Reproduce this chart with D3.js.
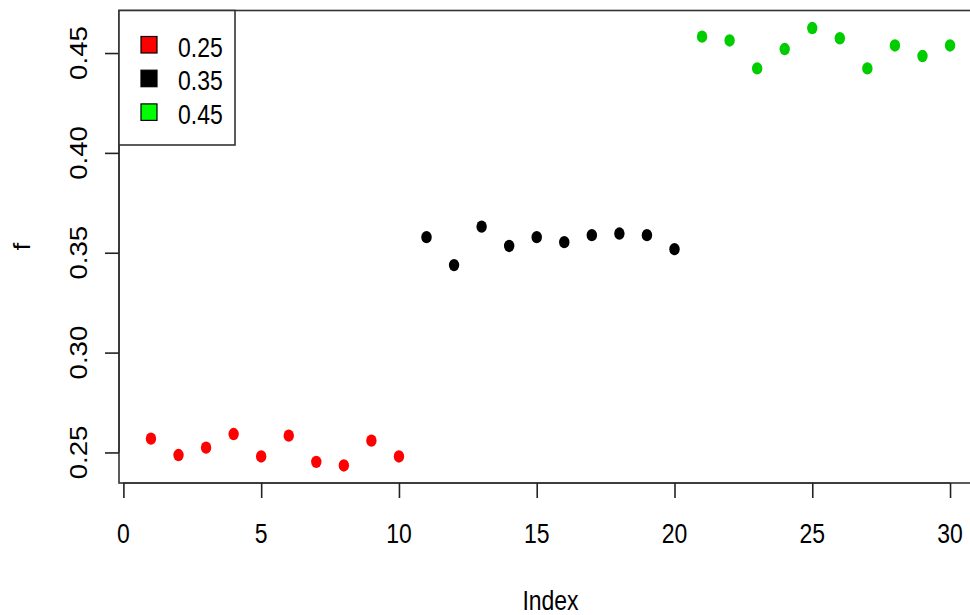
<!DOCTYPE html>
<html lang="en">
<head>
<meta charset="utf-8">
<script src="https://d3js.org/d3.v7.min.js"></script>
<style>
  body { margin: 0; background: #fff; }
  text { font-family: Arial, "Liberation Sans", sans-serif; fill: #000; }
</style>
</head>
<body>
<script>
  // values, index 1..30
  var fRed = [0.2569, 0.2487, 0.2524, 0.2592, 0.2480, 0.2584, 0.2453, 0.2435, 0.2559, 0.2480];
  var fBlack = [0.3578, 0.3438, 0.3631, 0.3534, 0.3578, 0.3553, 0.3588, 0.3596, 0.3588, 0.3518];
  var fGreen = [0.4582, 0.4563, 0.4423, 0.4520, 0.4625, 0.4574, 0.4423, 0.4538, 0.4485, 0.4538];
  var groups = ['0.25', '0.35', '0.45'];
  var colors = ['#ff0000', '#000000', '#00cd00'];
  var legendColors = ['#ff0000', '#000000', '#00ff00'];
  var xTicks = [0, 5, 10, 15, 20, 25, 30];
  var yTicks = [0.25, 0.30, 0.35, 0.40, 0.45];

  var width = 970, height = 615;
  var stretch = 1.2; // the picture is a bit taller than wide

  var points = [];
  [fRed, fBlack, fGreen].forEach(function(arr, g) {
    arr.forEach(function(v, i) {
      points.push({ idx: g * 10 + i + 1, f: v, g: g });
    });
  });

  var x = d3.scaleLinear().domain([-0.16, 31.16]).range([119, 982]);
  var y = d3.scaleLinear().domain([0.2347, 0.4713]).range([483, 10.5]);

  var svg = d3.select('body').append('svg')
    .attr('width', width)
    .attr('height', height);

  // points
  svg.append('g').selectAll('ellipse')
    .data(points)
    .join('ellipse')
    .attr('cx', function(d) { return x(d.idx); })
    .attr('cy', function(d) { return y(d.f); })
    .attr('rx', 5.2)
    .attr('ry', 6.2)
    .attr('fill', function(d) { return colors[d.g]; });

  // box
  svg.append('rect')
    .attr('x', x.range()[0]).attr('y', y.range()[1])
    .attr('width', x.range()[1] - x.range()[0])
    .attr('height', y.range()[0] - y.range()[1])
    .attr('fill', 'none').attr('stroke', '#333').attr('stroke-width', 1.6);

  // x axis
  var xAxis = svg.append('g')
    .attr('transform', 'translate(0,' + y.range()[0] + ')')
    .call(d3.axisBottom(x).tickValues(xTicks).tickSize(15).tickFormat(''));
  xAxis.select('.domain').attr('stroke', '#333').attr('stroke-width', 1.6)
    .attr('d', 'M' + x(0) + ',0H' + x(30));
  xAxis.selectAll('line').attr('stroke', '#222').attr('stroke-width', 1.6);

  svg.append('g').selectAll('text')
    .data(xTicks)
    .join('text')
    .attr('text-anchor', 'middle')
    .attr('font-size', 23)
    .attr('transform', function(d) { return 'translate(' + x(d) + ',543) scale(1,' + stretch + ')'; })
    .text(function(d) { return d; });

  // y axis
  var yAxis = svg.append('g')
    .attr('transform', 'translate(' + x.range()[0] + ',0)')
    .call(d3.axisLeft(y).tickValues(yTicks).tickSize(14).tickFormat(''));
  yAxis.select('.domain').attr('stroke', '#333').attr('stroke-width', 1.6)
    .attr('d', 'M0,' + y(0.25) + 'V' + y(0.45));
  yAxis.selectAll('line').attr('stroke', '#222').attr('stroke-width', 1.6);

  svg.append('g').selectAll('text')
    .data(yTicks)
    .join('text')
    .attr('text-anchor', 'middle')
    .attr('font-size', 23)
    .attr('transform', function(d) { return 'translate(87,' + y(d) + ') scale(1,' + stretch + ') rotate(-90)'; })
    .text(function(d) { return d.toFixed(2); });

  // axis titles
  svg.append('text')
    .attr('text-anchor', 'middle')
    .attr('font-size', 23)
    .attr('transform', 'translate(' + ((x.range()[0] + x.range()[1]) / 2) + ',610) scale(1,' + stretch + ')')
    .text('Index');

  svg.append('text')
    .attr('text-anchor', 'middle')
    .attr('font-size', 23)
    .attr('transform', 'translate(30,' + ((y.range()[0] + y.range()[1]) / 2) + ') scale(1,' + stretch + ') rotate(-90)')
    .text('f');

  // legend
  var legend = svg.append('g');
  legend.append('rect')
    .attr('x', 119).attr('y', 10.5)
    .attr('width', 116).attr('height', 134.5)
    .attr('fill', '#fff').attr('stroke', '#333').attr('stroke-width', 1.6);

  var rows = legend.selectAll('g.row')
    .data(groups)
    .join('g')
    .attr('class', 'row')
    .attr('transform', function(d, i) { return 'translate(0,' + (44.5 + i * 33.7) + ')'; });

  rows.append('rect')
    .attr('x', 141).attr('y', -8)
    .attr('width', 16).attr('height', 16.5)
    .attr('fill', function(d, i) { return legendColors[i]; })
    .attr('stroke', '#000').attr('stroke-width', 1.2);

  rows.append('text')
    .attr('font-size', 23)
    .attr('transform', 'translate(178,12) scale(1,' + stretch + ')')
    .text(function(d) { return d; });
</script>
</body>
</html>
